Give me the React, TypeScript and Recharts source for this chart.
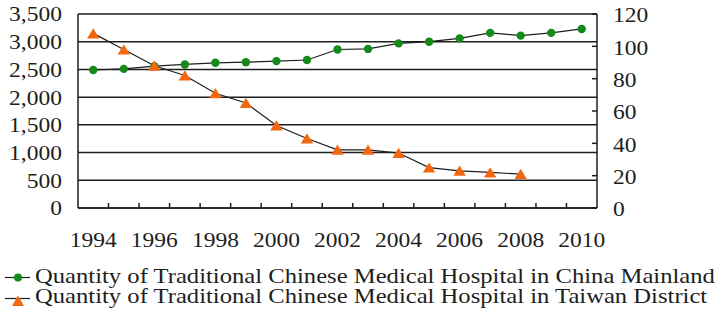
import React from "react";
import {
  LineChart,
  Line,
  XAxis,
  YAxis,
  CartesianGrid,
  Legend,
} from "recharts";

const years = [1994, 1995, 1996, 1997, 1998, 1999, 2000, 2001, 2002, 2003, 2004, 2005, 2006, 2007, 2008, 2009, 2010];
const mainland = [2490, 2510, 2560, 2590, 2620, 2630, 2650, 2670, 2860, 2870, 2970, 3000, 3060, 3160, 3110, 3160, 3230];
const taiwan: (number | null)[] = [108, 98, 88, 82, 71, 65, 51, 43, 36, 36, 34, 25, 23, 22, 21, null, null];
const xLabels = [1994, 1996, 1998, 2000, 2002, 2004, 2006, 2008, 2010];
const leftTicks = [0, 500, 1000, 1500, 2000, 2500, 3000, 3500];
const rightTicks = [0, 20, 40, 60, 80, 100, 120];
const mainlandName = "Quantity of Traditional Chinese Medical Hospital in China Mainland";
const taiwanName = "Quantity of Traditional Chinese Medical Hospital in Taiwan District";

const GREEN = "#148a1a";
const ORANGE = "#f4670f";
const INK = "#1e1e1e";
const FONT = "'Liberation Serif', 'Times New Roman', serif";
const SX = 1.12;

const data = years.map((y, i) => ({ year: y, mainland: mainland[i], taiwan: taiwan[i] }));
const boundaryTicks = years.slice(1).map((y) => y - 0.5);
const xTicks = [...xLabels, ...boundaryTicks].sort((a, b) => a - b);

const fmt = (v: number) => v.toLocaleString("en-US");

const XTick = (props: any) => {
  const { x, y, payload } = props;
  const v = payload.value as number;
  if (Number.isInteger(v)) {
    return (
      <text
        transform={`translate(${x},${y + 39}) scale(${SX},1)`}
        textAnchor="middle"
        fontFamily={FONT}
        fontSize={21}
        fill={INK}
      >
        {v}
      </text>
    );
  }
  return <line x1={x} x2={x} y1={y} y2={y - 5} stroke={INK} strokeWidth={1.5} />;
};

const LeftTick = (props: any) => {
  const { x, y, payload } = props;
  return (
    <text
      transform={`translate(${x - 16},${y}) scale(${SX},1)`}
      textAnchor="end"
      dy="0.355em"
      fontFamily={FONT}
      fontSize={21}
      fill={INK}
    >
      {fmt(payload.value)}
    </text>
  );
};

const RightTick = (props: any) => {
  const { x, y, payload } = props;
  return (
    <g>
      <line x1={x - 5} x2={x} y1={y} y2={y} stroke={INK} strokeWidth={1.5} />
      <text
        transform={`translate(${x + 16},${y + 1}) scale(${SX},1)`}
        textAnchor="start"
        dy="0.355em"
        fontFamily={FONT}
        fontSize={21}
        fill={INK}
      >
        {payload.value}
      </text>
    </g>
  );
};

const CircleDot = (props: any) => {
  const { cx, cy, index } = props;
  if (cx == null || cy == null) return <g key={`c${index}`} />;
  return <circle key={`c${index}`} cx={cx} cy={cy} r={4.2} fill={GREEN} stroke="none" />;
};

const TriDot = (props: any) => {
  const { cx, cy, index, value } = props;
  if (cx == null || cy == null || value == null) return <g key={`t${index}`} />;
  const pts = `${cx},${cy - 5.2} ${cx - 6.2},${cy + 5} ${cx + 6.2},${cy + 5}`;
  return <polygon key={`t${index}`} points={pts} fill={ORANGE} stroke="none" />;
};

const LegendContent = () => (
  <svg width={720} height={60} style={{ display: "block" }}>
    <g>
      <line x1={5} x2={30} y1={23.5} y2={23.5} stroke={INK} strokeWidth={1.2} />
      <circle cx={18} cy={23.5} r={4} fill={GREEN} />
      <text
        transform={`translate(35,29) scale(${SX},1)`}
        fontFamily={FONT}
        fontSize={22}
        fill={INK}
      >
        {mainlandName}
      </text>
    </g>
    <g>
      <line x1={5} x2={30} y1={44.5} y2={44.5} stroke={INK} strokeWidth={1.2} />
      <polygon points={`18,41.5 12,52 24,52`} fill={ORANGE} />
      <text
        transform={`translate(35,48.5) scale(${SX},1)`}
        fontFamily={FONT}
        fontSize={22}
        fill={INK}
      >
        {taiwanName}
      </text>
    </g>
  </svg>
);

export default function App() {
  return (
    <div style={{ position: "absolute", left: 0, top: 0, width: 720, height: 314, background: "#fff" }}>
      <LineChart
        width={720}
        height={314}
        data={data}
        margin={{ top: 14, right: 0, bottom: 0, left: 0 }}
      >
        <CartesianGrid yAxisId="left" horizontal={true} vertical={false} stroke={INK} strokeWidth={1.5} />
        <XAxis
          dataKey="year"
          type="number"
          domain={[1993.5, 2010.5]}
          ticks={xTicks}
          interval={0}
          tickLine={false}
          tickSize={0}
          tickMargin={0}
          height={46}
          axisLine={{ stroke: INK, strokeWidth: 1.5 }}
          tick={<XTick />}
          allowDataOverflow
        />
        <YAxis
          yAxisId="left"
          orientation="left"
          domain={[0, 3500]}
          ticks={leftTicks}
          interval={0}
          width={78}
          tickLine={false}
          tickSize={0}
          tickMargin={0}
          axisLine={{ stroke: INK, strokeWidth: 1.5 }}
          tick={<LeftTick />}
        />
        <YAxis
          yAxisId="right"
          orientation="right"
          domain={[0, 120]}
          ticks={rightTicks}
          interval={0}
          width={123}
          tickLine={false}
          tickSize={0}
          tickMargin={0}
          axisLine={{ stroke: INK, strokeWidth: 1.5 }}
          tick={<RightTick />}
        />
        <Legend
          verticalAlign="bottom"
          align="left"
          height={60}
          content={<LegendContent />}
          wrapperStyle={{ left: 0, bottom: 0, width: 720, height: 60, margin: 0, padding: 0 }}
        />
        <Line
          yAxisId="left"
          type="linear"
          dataKey="mainland"
          name={mainlandName}
          stroke={INK}
          strokeWidth={1.2}
          dot={<CircleDot />}
          activeDot={false}
          isAnimationActive={false}
        />
        <Line
          yAxisId="right"
          type="linear"
          dataKey="taiwan"
          name={taiwanName}
          stroke={INK}
          strokeWidth={1.2}
          dot={<TriDot />}
          activeDot={false}
          isAnimationActive={false}
        />
      </LineChart>
    </div>
  );
}
